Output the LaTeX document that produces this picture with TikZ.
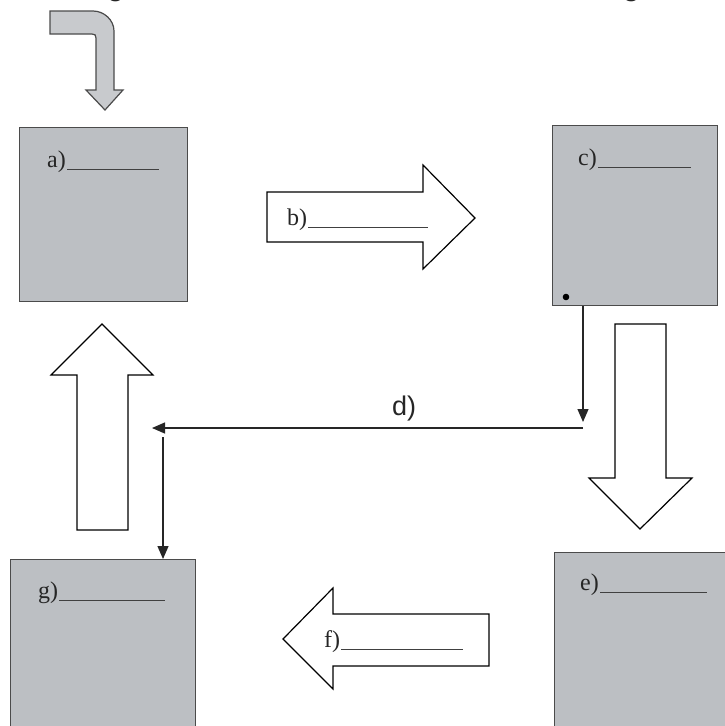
\documentclass[tikz,border=0pt]{standalone}
\usepackage{fontspec}
\setmainfont{Liberation Serif}
\newfontfamily\topfont{Carlito}
\newfontfamily\dfont{Liberation Sans}
\usetikzlibrary{arrows.meta}
\definecolor{boxgray}{RGB}{188,191,195}
\definecolor{boxedge}{RGB}{75,75,75}
\definecolor{bentfill}{RGB}{200,202,205}
\begin{document}
\begin{tikzpicture}[x=1pt,y=-1pt,
  graybox/.style={draw=boxedge, line width=1.4pt, fill=boxgray, inner sep=0pt, anchor=north west},
  blockarrow/.style={draw=black, line width=1.2pt, fill=white, line join=miter},
  lbl/.style={font=\fontsize{24}{28}\selectfont, anchor=base west, inner sep=0pt, text=black!85},
  uline/.style={draw=black!75, line width=0.8pt},
  conn/.style={draw=black!85, line width=1.3pt},
  tipped/.style={-{Triangle[length=13pt,width=11pt]}}]
\useasboundingbox (0,0) rectangle (725,726);
\clip (0,0) rectangle (725,726);
% top (cut) text
\node[font=\topfont\fontsize{31}{36}\selectfont, anchor=base west, inner sep=0pt, text=black!85] (title) at (19,-4) {Headings for each of the sections in the following};
% bent arrow
\path[draw=boxedge, line width=1.2pt, fill=bentfill, line join=miter]
  (50,11) -- (93,11) .. controls (104,11) and (114,20) .. (114,31)
  -- (114,90) -- (123,90) -- (105,110) -- (86,90) -- (96,90)
  -- (96,38) .. controls (96,35) and (95,34) .. (92,34) -- (50,34) -- cycle;
% boxes
\node[graybox, minimum width=168pt, minimum height=174pt] (a) at (19,127) {};
\node[graybox, minimum width=165pt, minimum height=180pt] (c) at (552,125) {};
\node[graybox, minimum width=185pt, minimum height=185pt] (e) at (554,552) {};
\node[graybox, minimum width=185pt, minimum height=180pt] (g) at (10,559) {};
\fill[black] (566,297) circle (3.3pt);
% box labels
\node[lbl] (al) at (47,167) {a)};
\draw[uline] (al.base east) ++(1,2) -- ++(92,0);
\node[lbl] (cl) at (578,165) {c)};
\draw[uline] (cl.base east) ++(1,2) -- ++(93,0);
\node[lbl] (el) at (580,590) {e)};
\draw[uline] (el.base east) ++(1,2) -- ++(107,0);
\node[lbl] (gl) at (38,598) {g)};
\draw[uline] (gl.base east) ++(1,2) -- ++(106,0);
% block arrows
\path[blockarrow] (267,192) -- (423,192) -- (423,165) -- (475,218) -- (423,269) -- (423,242) -- (267,242) -- cycle;
\node[lbl] (bl) at (287,225) {b)};
\draw[uline] (bl.base east) ++(1,2) -- ++(120,0);
\path[blockarrow] (489,614) -- (333,614) -- (333,588) -- (283,639) -- (333,689) -- (333,666) -- (489,666) -- cycle;
\node[lbl] (fl) at (324,647) {f)};
\draw[uline] (fl.base east) ++(1,2) -- ++(122,0);
\path[blockarrow] (77,530) -- (77,375) -- (51,375) -- (102,324) -- (153,375) -- (128,375) -- (128,530) -- cycle;
\path[blockarrow] (615,324) -- (666,324) -- (666,478) -- (692,478) -- (640,529) -- (589,478) -- (615,478) -- cycle;
% connectors
\coordinate (dtop) at (583,422);
\coordinate (dright) at (583,428);
\coordinate (dleft) at (152,428);
\coordinate (gtop) at (163,437);
\draw[conn,tipped] ([xshift=31pt]c.south west) -- (dtop);
\draw[conn,tipped] (dright) -- (dleft);
\draw[conn,tipped] (gtop) -- (gtop |- g.north);
\node[font=\dfont\fontsize{27}{32}\selectfont, anchor=base west, inner sep=0pt, text=black!85] (dl) at (392,415) {d)};
\end{tikzpicture}
\end{document}
